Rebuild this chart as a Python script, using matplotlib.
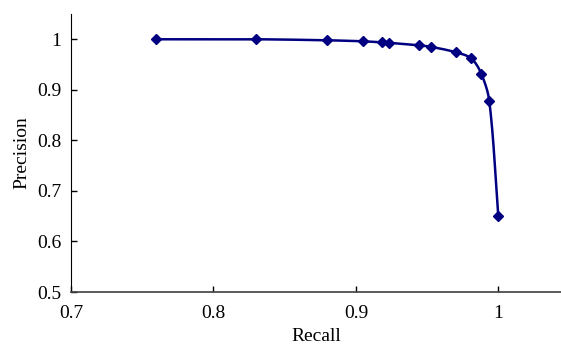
import numpy as np
import matplotlib
matplotlib.use("Agg")
import matplotlib.pyplot as plt

plt.rcParams['font.family'] = ['Liberation Serif', 'DejaVu Serif']

# precision / recall points
recall = [0.76, 0.83, 0.88, 0.905, 0.918, 0.9235, 0.9445, 0.953, 0.9705, 0.981, 0.988, 0.9937, 1.0]
precision = [1.0, 1.0, 0.998, 0.996, 0.994, 0.993, 0.988, 0.985, 0.974, 0.962, 0.932, 0.877, 0.65]

x_ticks = [0.7, 0.8, 0.9, 1.0]
y_ticks = [0.5, 0.6, 0.7, 0.8, 0.9, 1.0]

navy = '#000080'


def smooth(xs, ys, sx=1425.0, sy=506.0, n=30):
    # chord-length cubic Bezier smoothing, done in rough pixel units
    P = np.column_stack([np.asarray(xs, float) * sx, np.asarray(ys, float) * sy])
    P = np.vstack([P[0], P, P[-1]])
    out = []
    t = np.linspace(0, 1, n)[:, None]
    for i in range(1, len(P) - 2):
        p0, p1, p2, p3 = P[i - 1], P[i], P[i + 1], P[i + 2]
        d01 = np.linalg.norm(p1 - p0)
        d12 = np.linalg.norm(p2 - p1)
        d23 = np.linalg.norm(p3 - p2)
        m1 = (p2 - p0) / max(d01 + d12, 1e-9)
        m2 = (p3 - p1) / max(d12 + d23, 1e-9)
        c1 = p1 + m1 * d12 / 3.0
        c2 = p2 - m2 * d12 / 3.0
        b = (1 - t) ** 3 * p1 + 3 * (1 - t) ** 2 * t * c1 + 3 * (1 - t) * t ** 2 * c2 + t ** 3 * p2
        out.append(b)
    out = np.vstack(out)
    return out[:, 0] / sx, out[:, 1] / sy


fig = plt.figure(figsize=(5.61, 3.45), dpi=100)
ax = fig.add_axes([0.1266, 0.1536, 0.8734, 0.8058])

cx, cy = smooth(recall, precision)
ax.plot(cx, cy, color=navy, lw=1.8)
ax.plot(recall, precision, linestyle='none', marker='D', ms=5.5, color=navy)

ax.set_xlim(0.7, 1.044)
ax.set_ylim(0.5, 1.05)
ax.set_xticks(x_ticks)
ax.set_yticks(y_ticks)
ax.set_xticklabels(['%g' % v for v in x_ticks])
ax.set_yticklabels(['%g' % v for v in y_ticks])
ax.tick_params(direction='in', length=4, width=1, labelsize=14)
ax.tick_params(axis='x', pad=9)
ax.tick_params(axis='y', pad=7)

for s in ['top', 'right']:
    ax.spines[s].set_visible(False)
ax.spines['left'].set_color('black')
ax.spines['bottom'].set_color('#404040')
ax.spines['bottom'].set_linewidth(1.2)

ax.set_xlabel('Recall', fontsize=14, labelpad=4.5)
ax.set_ylabel('Precision', fontsize=14, labelpad=5)

fig.savefig('out.png', dpi=100)
